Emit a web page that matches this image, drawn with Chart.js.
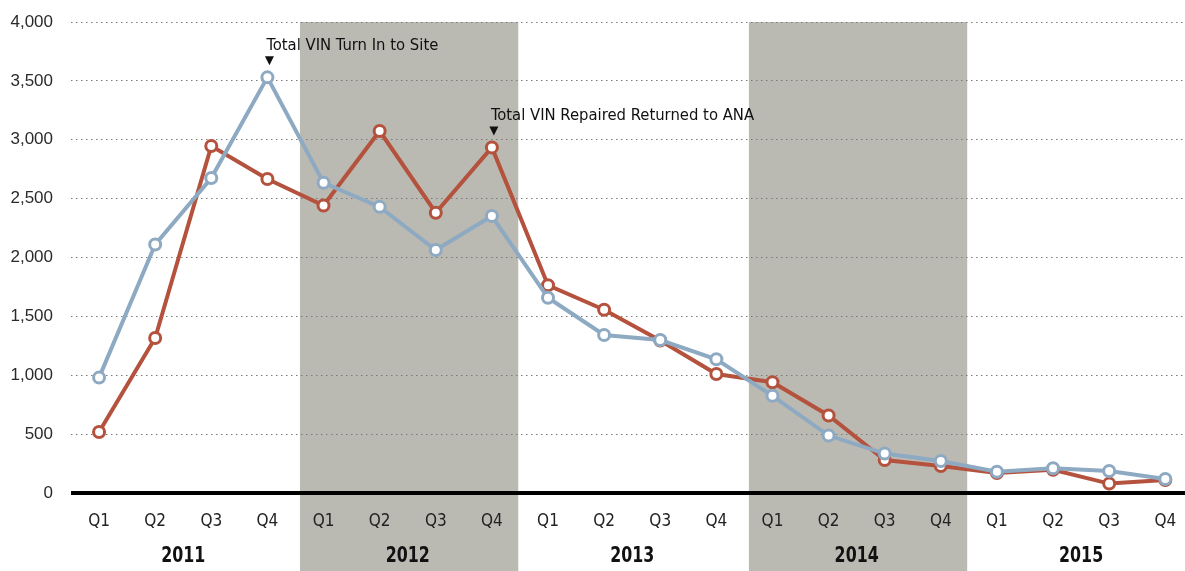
<!DOCTYPE html>
<html>
<head>
<meta charset="utf-8">
<script src="https://cdn.jsdelivr.net/npm/chart.js@4.4.1/dist/chart.umd.min.js"></script>
<style>
    html, body { margin: 0; padding: 0; background: #fff; overflow: hidden; }
    #wrap { width: 1185px; height: 571px; position: relative; overflow: hidden; }
</style>
</head>
<body>
<div id="wrap"><canvas id="vinChart" width="1194" height="571"></canvas></div>
<script>
const quarters = ["Q1", "Q2", "Q3", "Q4", "Q1", "Q2", "Q3", "Q4", "Q1", "Q2", "Q3", "Q4",
                  "Q1", "Q2", "Q3", "Q4", "Q1", "Q2", "Q3", "Q4"];
const years = ["2011", "2012", "2013", "2014", "2015"];
const shadedYears = ["2012", "2014"];
const yTicks = [0, 500, 1000, 1500, 2000, 2500, 3000, 3500, 4000];

// Total VIN Turn In to Site (blue)
const turnIn = [980, 2110, 2675, 3530, 2635, 2430, 2064, 2352, 1658, 1342,
                1299, 1136, 825, 488, 335, 272, 180, 210, 187, 119];
// Total VIN Repaired Returned to ANA (red)
const repaired = [518, 1316, 2947, 2667, 2442, 3074, 2380, 2935, 1764, 1556,
                  1295, 1011, 941, 658, 280, 229, 170, 198, 80, 110];

const annotations = [
    { dataset: 0, index: 3, text: "Total VIN Turn In to Site" },
    { dataset: 1, index: 7, text: "Total VIN Repaired Returned to ANA" }
];

const blue = "#8eaac3";
const red = "#b4523e";
const bandColor = "#bab9b2";
const narrow = '"Liberation Sans Narrow", "DejaVu Sans Condensed", sans-serif';

// shaded year bands behind everything, running down through the labels
const bandsPlugin = {
    id: "bands",
    beforeDraw(chart) {
        const c = chart.ctx;
        const xs = chart.scales.x;
        const top = chart.chartArea.top;
        c.save();
        c.fillStyle = bandColor;
        shadedYears.forEach(function (yr) {
            const k = years.indexOf(yr);
            const x0 = xs.getPixelForValue(k * 4 - 0.42);
            const x1 = xs.getPixelForValue(k * 4 + 3.47);
            c.fillRect(x0, top, x1 - x0, chart.height - top);
        });
        c.restore();
    }
};

// year labels and the two callouts
const labelsPlugin = {
    id: "labels",
    afterDraw(chart) {
        const c = chart.ctx;
        const xs = chart.scales.x;
        c.save();
        c.fillStyle = "#111";
        c.font = 'bold 22px ' + narrow;
        c.textAlign = "center";
        c.textBaseline = "middle";
        years.forEach(function (yr, k) {
            c.save();
            c.translate(xs.getPixelForValue(k * 4 + 1.5), 556);
            c.scale(0.8, 1);
            c.fillText(yr, 0, 0);
            c.restore();
        });

        c.font = '16.5px ' + narrow;
        c.textAlign = "left";
        c.textBaseline = "alphabetic";
        annotations.forEach(function (a) {
            const pt = chart.getDatasetMeta(a.dataset).data[a.index];
            c.fillText(a.text, pt.x - 1, pt.y - 27);
            c.beginPath();
            c.moveTo(pt.x - 2.5, pt.y - 21);
            c.lineTo(pt.x + 6.5, pt.y - 21);
            c.lineTo(pt.x + 2, pt.y - 12);
            c.closePath();
            c.fill();
        });
        c.restore();
    }
};

function lineDataset(label, values, color)
{
    return {
        label: label,
        data: values.map((v, i) => ({ x: i, y: v })),
        borderColor: color,
        borderWidth: 4,
        pointRadius: 5.5,
        pointBorderWidth: 3,
        pointBackgroundColor: "#fff",
        pointBorderColor: color,
        tension: 0
    };
}

const ctx = document.getElementById("vinChart").getContext("2d");
new Chart(ctx, {
    type: "line",
    data: {
        datasets: [
            lineDataset(annotations[0].text, turnIn, blue),
            lineDataset(annotations[1].text, repaired, red)
        ]
    },
    options: {
        responsive: false,
        animation: false,
        layout: { padding: { top: 22, left: 0, right: 0, bottom: 0 } },
        plugins: {
            legend: { display: false },
            tooltip: { enabled: false }
        },
        scales: {
            x: {
                type: "linear",
                min: -0.5,
                max: 19.36,
                afterFit: s => { s.height = 78; s.paddingLeft = 0; s.paddingRight = 0; },
                grid: { display: false, drawTicks: false },
                border: { display: false },
                ticks: {
                    stepSize: 1,
                    autoSkip: false,
                    includeBounds: false,
                    maxRotation: 0,
                    padding: 18,
                    color: "#222",
                    font: { family: narrow, size: 17 },
                    callback: v => Number.isInteger(v) ? quarters[v] : ""
                }
            },
            y: {
                min: 0,
                max: 4000,
                afterFit: s => { s.width = 71; s.paddingTop = 0; s.paddingBottom = 0; },
                afterBuildTicks: s => { s.ticks = yTicks.map(v => ({ value: v })); },
                grid: {
                    drawTicks: false,
                    color: c => c.tick && c.tick.value === 0 ? "#000" : "#7a7a7a",
                    lineWidth: c => c.tick && c.tick.value === 0 ? 4 : 1
                },
                border: {
                    display: false,
                    dash: c => c.tick && c.tick.value === 0 ? [] : [1.5, 3.5]
                },
                ticks: {
                    padding: 18,
                    color: "#2a2a2a",
                    font: { family: '"Liberation Sans", Arial, sans-serif', size: 17 },
                    callback: v => v.toLocaleString("en-US")
                }
            }
        }
    },
    plugins: [bandsPlugin, labelsPlugin]
});
</script>
</body>
</html>
